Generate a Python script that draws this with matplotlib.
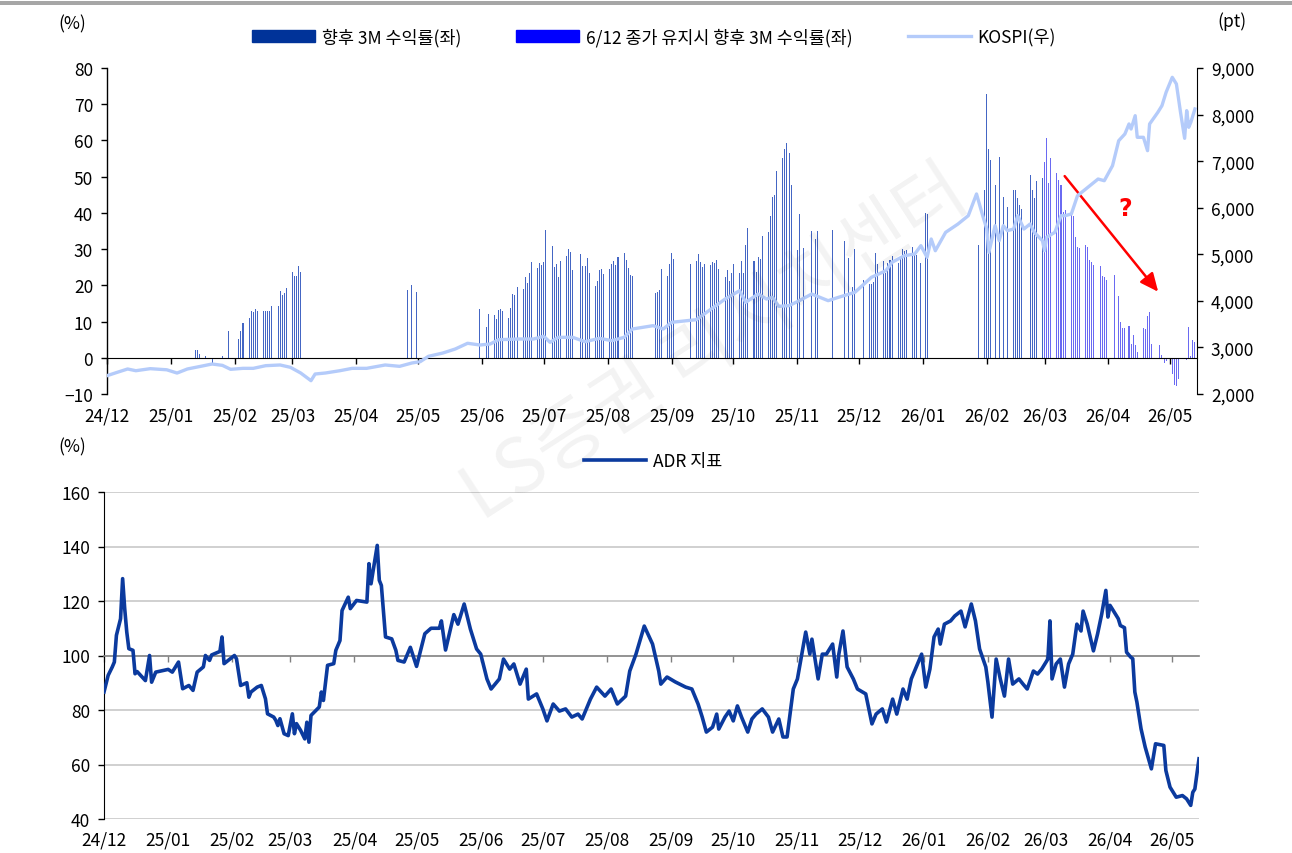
import pandas as pd
import matplotlib
matplotlib.use("Agg")
import matplotlib.pyplot as plt
from matplotlib.patches import Patch, Rectangle
from matplotlib.lines import Line2D
import matplotlib.ticker as mticker

plt.rcParams['font.family'] = ['Liberation Sans Narrow', 'Noto Sans CJK KR', 'DejaVu Sans']

# 날짜는 2024-12-01 기준 경과일
base = pd.Timestamp('2024-12-01')
month_labels = ['24/12', '25/01', '25/02', '25/03', '25/04', '25/05', '25/06', '25/07', '25/08',
                '25/09', '25/10', '25/11', '25/12', '26/01', '26/02', '26/03', '26/04', '26/05']

# 향후 3M 수익률(좌)
ret_day = [43, 44, 45, 48, 51, 56, 59, 64, 65, 66, 69, 70, 71, 72, 73, 76, 77, 78, 79, 80,
           83, 84, 85, 86, 87, 90, 91, 92, 93, 94,
           146, 148, 150,
           181, 184, 185, 188, 189, 190, 191, 192, 195, 196, 197, 198, 199, 202, 203, 204, 205, 206,
           209, 210, 211, 212, 213, 216, 217, 218, 219, 220, 223, 224, 225, 226, 230, 231, 232, 233, 234,
           237, 238, 239, 240, 241, 244, 245, 246, 247, 248, 251, 252, 253, 254, 255,
           266, 267, 268, 269, 272, 273, 274, 275, 283, 286, 287, 288, 289, 290, 293, 294, 295, 296, 297,
           300, 301, 302, 303, 304, 307, 308, 309, 310, 311, 314, 315, 316, 317, 318,
           321, 322, 323, 324, 325, 328, 329, 330, 331, 332, 335, 336, 338, 342, 344, 345, 352,
           358, 360, 362, 363, 367, 370, 371, 372, 373, 374, 377, 378, 379, 380, 381,
           384, 385, 386, 387, 388, 391, 392, 393, 395, 397, 398,
           423, 426, 427, 428, 429, 431, 433, 435, 437, 440, 441, 442, 443, 444,
           448, 449, 450, 451, 454]
ret_val = [2.2, 2.2, 1.0, 0.4, -2.0, 0.4, 7.3, 5.2, 7.5, 9.7, 11.0, 13.0, 12.6, 13.4, 12.8, 12.8, 13.0, 13.0, 12.8, 14.2,
           14.4, 18.5, 17.4, 18.0, 19.3, 23.7, 22.5, 22.5, 25.2, 23.7,
           18.6, 20.2, 18.1,
           13.5, 8.6, 12.2, 11.9, 10.8, 13.2, 13.4, 12.8, 11.0, 13.7, 17.6, 17.4, 19.5, 19.1, 22.3, 20.7, 23.5, 26.4,
           24.9, 26.2, 25.7, 26.4, 35.4, 30.9, 25.1, 25.9, 22.4, 26.8, 28.0, 30.0, 29.3, 24.3, 28.6, 25.4, 25.4, 27.5, 23.5,
           19.8, 21.3, 24.2, 24.6, 23.2, 24.6, 25.9, 26.8, 25.5, 27.8, 29.0, 27.1, 24.8, 22.9, 22.6,
           18.0, 18.1, 18.8, 24.6, 22.7, 25.8, 29.0, 27.3, 25.9, 26.8, 28.6, 26.4, 25.1, 25.9, 25.7, 26.4, 26.1, 27.0, 24.6,
           22.4, 24.2, 21.3, 23.5, 25.9, 23.5, 26.6, 23.5, 31.2, 35.8, 26.7, 23.8, 27.7, 27.2, 33.5,
           34.7, 39.1, 44.4, 45.0, 51.7, 55.1, 57.7, 59.2, 56.5, 47.6, 29.8, 39.8, 30.4, 35.0, 32.7, 35.0, 35.4,
           32.3, 27.6, 19.5, 29.9, 21.4, 20.4, 20.4, 20.9, 29.0, 26.0, 26.8, 23.5, 26.2, 26.9, 28.1,
           26.1, 27.7, 30.0, 29.6, 29.8, 30.7, 28.5, 28.3, 26.2, 40.0, 39.7,
           31.0, 46.4, 72.7, 57.7, 54.7, 47.6, 55.4, 44.4, 41.6, 46.4, 46.4, 44.1, 42.1, 41.0,
           50.4, 46.4, 44.1, 48.7, 49.6]

# 6/12 종가 유지시 향후 3M 수익률(좌)
hold_day = [455, 456, 457, 458, 461, 462, 463, 464, 465, 468, 469, 470, 471, 472,
            475, 476, 477, 478, 479, 482, 483, 484, 485, 489, 491, 492, 493, 494,
            496, 497, 498, 499, 500, 503, 504, 505, 506, 507, 511, 512, 513, 514,
            517, 518, 519, 520, 524, 525, 526, 527, 528]
hold_val = [54.1, 60.8, 48.3, 55.2, 51.1, 49.0, 47.8, 40.2, 40.7, 39.9, 39.1, 33.3, 30.6, 30.4,
            31.2, 30.6, 27.1, 26.4, 25.5, 25.3, 22.7, 22.3, 21.4, 22.9, 17.0, 9.8, 8.2, 8.2,
            8.9, 3.9, 6.2, 3.4, 1.6, 8.2, 8.0, 11.5, 12.6, 3.9, 3.4, 0.8, -1.4, -1.0,
            -4.4, -7.6, -7.8, -5.9, -0.5, 8.5, 0.5, 5.0, 4.3]

# KOSPI(우)
kospi_day = [0, 5, 10, 14, 21, 29, 34, 39, 45, 51, 56, 60, 66, 71, 77, 84, 89, 94, 99, 101,
             106, 113, 119, 126, 135, 142, 148, 152, 156, 163, 169, 175, 181, 186, 190, 200, 207, 212, 215, 219,
             226, 232, 239, 245, 251, 255, 265, 270, 274, 286, 291, 300, 307, 310, 316, 320, 323, 326, 331, 336,
             342, 350, 355, 363, 371, 378, 381, 387, 392, 395, 398, 400, 402, 407, 413, 418, 422, 425, 427, 428,
             431, 433, 435, 437, 440, 442, 445, 448, 450, 454, 455, 456, 460, 463, 465, 468, 471, 476, 481, 484,
             488, 491, 494, 496, 497, 499, 500, 503, 505, 506, 510, 512, 514, 517, 519, 521, 523, 524, 525, 526, 528]
kospi = [2393, 2466, 2537, 2500, 2544, 2520, 2450, 2537, 2590, 2644, 2615, 2530, 2551, 2551, 2608, 2623, 2573, 2451, 2286, 2429,
         2451, 2500, 2551, 2551, 2623, 2594, 2666, 2694, 2809, 2880, 2966, 3089, 3052, 3074, 3166, 3181, 3181, 3239, 3110, 3217,
         3217, 3123, 3196, 3145, 3217, 3396, 3467, 3396, 3539, 3596, 3754, 4040, 4218, 3969, 4147, 4040, 4076, 3883, 3897, 4004,
         4147, 4004, 4076, 4184, 4506, 4648, 4828, 4970, 5006, 5185, 4935, 5328, 5077, 5471, 5650, 5829, 6295, 5829, 5543, 5043,
         5614, 5292, 5614, 5507, 5543, 5829, 5543, 5650, 5471, 5292, 5077, 5364, 5471, 5829, 5829, 5865, 6258, 6437, 6616, 6580,
         6902, 7439, 7583, 7798, 7690, 7976, 7512, 7512, 7225, 7798, 8049, 8192, 8478, 8800, 8657, 8049, 7490, 8084, 7727, 7834, 8120]

# ADR 지표
adr_day = [0, 2, 4, 5, 6, 8, 9, 10, 11, 12, 14, 15, 16, 20, 22, 23, 25, 31, 33, 36,
           37, 38, 41, 43, 45, 48, 49, 51, 52, 56, 57, 58, 63, 64, 66, 69, 70, 71, 74, 76,
           78, 79, 82, 83, 84, 85, 87, 89, 91, 92, 93, 95, 97, 98, 99, 100, 104, 105, 106, 108,
           111, 112, 114, 115, 118, 119, 122, 127, 128, 129, 132, 133, 134, 136, 139, 141, 142, 145, 148, 151,
           155, 158, 162, 163, 165, 169, 171, 174, 177, 180, 182, 185, 187, 191, 193, 196, 198, 201, 204, 205,
           209, 212, 214, 217, 220, 223, 226, 229, 231, 235, 238, 242, 245, 248, 252, 254, 257, 261, 265, 268,
           269, 272, 276, 281, 284, 287, 289, 291, 294, 296, 297, 300, 302, 304, 306, 308, 311, 313, 315, 318,
           321, 323, 326, 328, 330, 333, 335, 338, 339, 341, 342, 345, 347, 349, 352, 354, 355, 357, 359, 362,
           364, 368, 371, 373, 376, 378, 381, 383, 386, 388, 390, 393, 395, 397, 399, 401, 403, 404, 406, 409,
           411, 414, 416, 419, 421, 423, 426, 427, 429, 431, 433, 435, 437, 439, 442, 444, 446, 449, 451, 453,
           456, 457, 458, 460, 462, 464, 466, 468, 470, 472, 473, 475, 478, 480, 482, 484, 485, 486, 487, 490,
           491, 493, 494, 496, 497, 498, 499, 501, 503, 506, 508, 512, 513, 515, 518, 521, 523, 525, 526, 527, 529]
adr = [86.6, 92.7, 95.8, 97.6, 107.4, 113.5, 128.2, 117.2, 108.6, 102.5, 101.9, 93.3, 94.1, 90.8, 100.0, 90.2, 93.9, 94.9, 93.9, 97.6,
       92.7, 87.8, 89.0, 87.2, 93.9, 95.8, 100.0, 98.2, 100.2, 101.5, 106.8, 97.0, 100.0, 98.8, 89.0, 90.0, 84.7, 86.6, 88.4, 89.0,
       84.1, 78.6, 77.4, 76.2, 74.3, 76.8, 71.3, 70.6, 78.6, 71.3, 75.0, 72.5, 69.4, 75.5, 68.2, 78.0, 81.1, 86.6, 83.5, 96.4,
       97.0, 101.9, 105.5, 116.5, 121.4, 117.2, 120.2, 119.6, 133.7, 126.3, 140.4, 127.6, 125.7, 106.8, 106.1, 101.9, 98.2, 97.6, 103.0, 96.0,
       108.0, 110.0, 110.0, 112.7, 102.0, 115.0, 111.5, 118.9, 109.7, 102.4, 100.5, 91.4, 87.7, 91.4, 98.7, 95.0, 96.9, 89.5, 95.0, 84.0,
       85.9, 80.4, 76.0, 82.2, 79.6, 80.4, 77.4, 78.5, 76.7, 84.0, 88.4, 85.1, 87.7, 82.2, 85.1, 94.3, 100.5, 110.8, 104.2, 94.3,
       89.5, 92.1, 90.3, 88.4, 87.7, 82.2, 77.4, 71.9, 73.7, 78.5, 73.0, 77.4, 79.6, 76.0, 81.5, 77.4, 71.9, 76.7, 78.5, 80.4,
       77.4, 71.9, 76.7, 70.1, 70.1, 87.7, 91.4, 104.2, 108.6, 100.5, 106.0, 91.4, 100.5, 100.5, 104.2, 92.1, 100.5, 109.0, 95.8, 91.4,
       87.7, 85.9, 74.9, 78.5, 80.4, 75.6, 84.0, 78.5, 87.7, 84.0, 91.4, 96.9, 100.5, 88.4, 95.0, 106.8, 109.7, 104.2, 111.5, 112.7,
       114.5, 116.3, 110.5, 118.9, 112.7, 102.4, 95.8, 90.3, 77.4, 98.7, 91.4, 85.1, 98.7, 89.5, 91.4, 89.5, 87.7, 94.3, 93.2, 95.0,
       98.7, 112.7, 91.4, 96.9, 98.7, 88.4, 96.9, 100.5, 111.5, 109.0, 116.3, 111.5, 101.7, 107.9, 115.2, 123.9, 114.1, 118.4, 117.2, 113.5,
       111.0, 110.2, 101.2, 99.4, 98.8, 86.6, 82.9, 73.1, 66.4, 58.4, 67.6, 67.0, 57.8, 51.7, 48.0, 48.6, 47.4, 45.0, 49.8, 51.0, 62.1]


def to_dates(days):
    return base + pd.to_timedelta(days, unit='D')


W, H = 1292, 854
fig = plt.figure(figsize=(W / 100, H / 100), dpi=100)

# 상단 회색 띠
fig.patches.append(Rectangle((0, 1 - 6 / H), 1, 4 / H, transform=fig.transFigure,
                             color='#a6a6a6', lw=0))

month_ticks = pd.date_range('2024-12-01', '2026-05-01', freq='MS')
xmin, xmax = base, base + pd.Timedelta(days=529)
FS = 12.5
c_ret, c_hold, c_kospi, c_adr = '#003399', '#0000ff', '#b4cbfa', '#0b3a9e'

# ---- 상단 차트 ----
ax = fig.add_axes([107 / W, 1 - 395 / H, 1090 / W, 326 / H])
ax.bar(to_dates(ret_day), ret_val, width=0.5, color='#4466c4', lw=0, zorder=2)
ax.bar(to_dates(hold_day), hold_val, width=0.5, color='#6a6af2', lw=0, zorder=2)
ax.set_ylim(-10, 80)
ax.set_yticks(range(-10, 81, 10))
ax.set_yticklabels(['\u221210'] + [str(v) for v in range(0, 81, 10)])
ax.set_xlim(xmin, xmax)
ax.set_xticks(month_ticks)
ax.set_xticklabels(month_labels)
for s in ['top', 'right']:
    ax.spines[s].set_visible(False)
ax.spines['bottom'].set_position(('data', 0))
ax.spines['left'].set_linewidth(1.0)
ax.tick_params(axis='x', direction='out', length=4, width=1, pad=31, labelsize=FS)
ax.tick_params(axis='y', direction='out', length=4, width=1, pad=6, labelsize=FS)

ax2 = ax.twinx()
ax2.plot(to_dates(kospi_day), kospi, color=c_kospi, lw=2.4, solid_joinstyle='round', zorder=3)
ax2.set_ylim(2000, 9000)
ax2.set_yticks(range(2000, 9001, 1000))
ax2.yaxis.set_major_formatter(mticker.FuncFormatter(lambda v, p: f'{int(v):,}'))
ax2.tick_params(axis='y', direction='out', length=4, width=1, pad=6, labelsize=FS)
for s in ['top', 'left', 'bottom']:
    ax2.spines[s].set_visible(False)
ax2.set_xlim(xmin, xmax)

ax.annotate('', xy=(0.966, 0.307), xytext=(0.877, 0.675), xycoords='axes fraction',
            arrowprops=dict(arrowstyle='-|>,head_length=1.1,head_width=0.5', color='#ff0000', lw=1.8))
ax.text(0.934, 0.57, '?', transform=ax.transAxes, color='#ff0000', fontsize=17,
        fontweight='bold', ha='center', va='center', family='DejaVu Sans')

fig.text(72 / W, 1 - 24 / H, '(%)', fontsize=FS, ha='center', va='center')
fig.text(1232 / W, 1 - 22 / H, '(pt)', fontsize=FS, ha='center', va='center')

h_top = [Patch(color=c_ret), Patch(color=c_hold), Line2D([], [], color=c_kospi, lw=2.4)]
fig.legend(h_top, ['향후 3M 수익률(좌)', '6/12 종가 유지시 향후 3M 수익률(좌)', 'KOSPI(우)'],
           loc='center', bbox_to_anchor=(654 / W, 1 - 38 / H), ncol=3, frameon=False,
           fontsize=FS, handlelength=3.6, handleheight=0.7, columnspacing=3.2, handletextpad=0.4)

# ---- 하단 차트 ----
bx = fig.add_axes([104 / W, 1 - 820 / H, 1095 / W, 327 / H])
for v in [40, 60, 80, 120, 140, 160]:
    bx.axhline(v, color='#c8c8c8', lw=1.2, zorder=0)
bx.plot(to_dates(adr_day), adr, color=c_adr, lw=2.6, solid_joinstyle='round', zorder=3)
bx.set_ylim(40, 160)
bx.set_yticks(range(40, 161, 20))
bx.set_xlim(xmin, xmax)
bx.set_xticks(month_ticks)
bx.set_xticklabels(month_labels)
for s in ['top', 'right']:
    bx.spines[s].set_visible(False)
bx.spines['bottom'].set_position(('data', 100))
bx.spines['bottom'].set_color('#808080')
bx.spines['bottom'].set_linewidth(1.2)
bx.tick_params(axis='x', direction='out', length=4, width=1, color='#808080', pad=122, labelsize=FS)
bx.tick_params(axis='y', direction='out', length=4, width=1, pad=6, labelsize=FS)

fig.text(72 / W, 1 - 447 / H, '(%)', fontsize=FS, ha='center', va='center')
fig.legend([Line2D([], [], color=c_adr, lw=2.6)], ['ADR 지표'], loc='center',
           bbox_to_anchor=(653 / W, 1 - 462 / H), frameon=False, fontsize=FS,
           handlelength=3.6, handletextpad=0.4)

# 워터마크
fig.text(715 / W, 1 - 345 / H, 'LS증권 리서치센터', fontsize=54, color='#000000', alpha=0.05,
         rotation=33, ha='center', va='center', family=['Noto Sans CJK KR'])

fig.savefig('out.png', dpi=100)
